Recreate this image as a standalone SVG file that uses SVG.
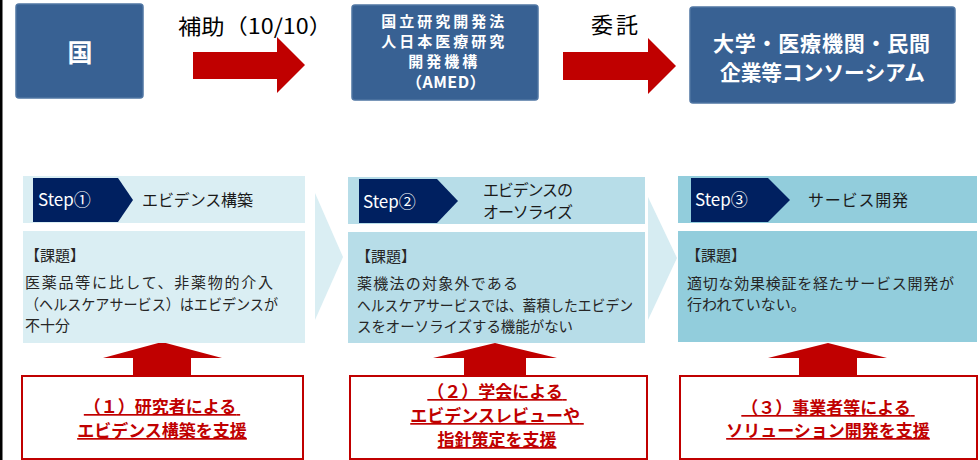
<svg xmlns="http://www.w3.org/2000/svg" width="980" height="460" viewBox="0 0 980 460">
<defs>
<style>
.jp{font-family:"Noto Sans CJK JP","Noto Sans",sans-serif;}
.topbox{fill:#386193;stroke:#4f75a3;stroke-width:1.5;}
.wt{fill:#ffffff;font-weight:bold;}
.red{fill:#c00000;}
.step{fill:#002060;}
.st{fill:#ffffff;font-size:17px;}
.title{fill:#1a1a1a;font-size:16px;}
.body{fill:#262626;font-size:15px;}
.sup{fill:#ffffff;stroke:#c00000;stroke-width:2;}
.supt{fill:#c00000;font-size:17px;font-weight:bold;text-decoration:underline;}
</style>
</defs>
<rect x="0" y="0" width="980" height="460" fill="#ffffff"/>
<rect x="0" y="0" width="2.5" height="460" fill="#000000"/>

<g id="connectors">
<polygon class="red" points="193,52 277,52 277,37 305,65 277,93 277,79 193,79"/>
<polygon class="red" points="563,52 648,52 648,38 676,66 648,94 648,80 563,80"/>
<polygon points="315,193 343,257 315,320" fill="#daeef3"/>
<polygon points="648,197 677,258 648,320" fill="#d6ecf2"/>
<polygon class="red" points="162,342 222,358 191,358 191,376 133,376 133,358 103,358"/>
<polygon class="red" points="495,343 557,358 526,358 526,376 464,376 464,358 433,358"/>
<polygon class="red" points="828,343 887,358 857,358 857,376 799,376 799,358 768,358"/>
<text class="jp" x="178" y="34" font-size="21" fill="#000000" textLength="154" lengthAdjust="spacingAndGlyphs">補助（10/10）</text>
<text class="jp" x="591" y="33" font-size="22" fill="#000000" textLength="47">委託</text>
</g>

<g id="kuni">
<rect class="topbox" x="16" y="4" width="127" height="94" rx="3"/>
<text class="jp wt" x="80" y="62" font-size="25" text-anchor="middle">国</text>
</g>

<g id="amed">
<rect class="topbox" x="352" y="5" width="186" height="95" rx="3"/>
<text class="jp wt" font-size="15" text-anchor="middle">
<tspan x="446" y="27" letter-spacing="3">国立研究開発法</tspan>
<tspan x="446" y="47" letter-spacing="3">人日本医療研究</tspan>
<tspan x="446" y="67" letter-spacing="3">開発機構</tspan>
<tspan x="446" y="88" font-size="16" letter-spacing="0.5">（AMED）</tspan>
</text>
</g>

<g id="consortium">
<rect class="topbox" x="690" y="7" width="265" height="96" rx="3"/>
<text class="jp wt" font-size="21">
<tspan x="713" y="51" textLength="217">大学・医療機関・民間</tspan>
<tspan x="720" y="80" textLength="205" lengthAdjust="spacingAndGlyphs">企業等コンソーシアム</tspan>
</text>
</g>

<g id="step1">
<rect x="23" y="176" width="282" height="47" fill="#daeef3"/>
<polygon class="step" points="33,178 118,178 133,200 118,222 33,222"/>
<text class="jp st" x="38" y="206">Step①</text>
<text class="jp title" x="142" y="206" textLength="111">エビデンス構築</text>
<rect x="23" y="231" width="282" height="112" fill="#daeef3"/>
<text class="jp body">
<tspan x="25" y="261">【課題】</tspan>
<tspan x="25" y="288" textLength="248">医薬品等に比して、非薬物的介入</tspan>
<tspan x="25" y="310" textLength="253" lengthAdjust="spacingAndGlyphs">（ヘルスケアサービス）はエビデンスが</tspan>
<tspan x="25" y="331">不十分</tspan>
</text>
</g>

<g id="step2">
<rect x="348" y="177" width="297" height="47" fill="#b7dde8"/>
<polygon class="step" points="359,179 437,179 458,201 437,223 359,223"/>
<text class="jp st" x="363" y="208">Step②</text>
<text class="jp title">
<tspan x="483" y="196" textLength="90">エビデンスの</tspan>
<tspan x="483" y="218" textLength="90">オーソライズ</tspan>
</text>
<rect x="348" y="232" width="297" height="111" fill="#b7dde8"/>
<text class="jp body">
<tspan x="356" y="262">【課題】</tspan>
<tspan x="357" y="289" textLength="161">薬機法の対象外である</tspan>
<tspan x="357" y="311" textLength="276" lengthAdjust="spacingAndGlyphs">ヘルスケアサービスでは、蓄積したエビデン</tspan>
<tspan x="357" y="332" textLength="216" lengthAdjust="spacingAndGlyphs">スをオーソライズする機能がない</tspan>
</text>
</g>

<g id="step3">
<rect x="678" y="176" width="299" height="47" fill="#92cddc"/>
<polygon class="step" points="691,178 768,178 790,200 768,222 691,222"/>
<text class="jp st" x="695" y="206">Step③</text>
<text class="jp title" x="808" y="206" textLength="100">サービス開発</text>
<rect x="678" y="231" width="299" height="111" fill="#92cddc"/>
<text class="jp body">
<tspan x="686" y="261">【課題】</tspan>
<tspan x="687" y="289" textLength="267">適切な効果検証を経たサービス開発が</tspan>
<tspan x="687" y="310">行われていない。</tspan>
</text>
</g>

<g id="support1">
<rect class="sup" x="22" y="376" width="281" height="83"/>
<text class="jp supt" text-anchor="middle">
<tspan x="162" y="413">（１）研究者による</tspan>
<tspan x="162" y="437">エビデンス構築を支援</tspan>
</text>
</g>

<g id="support2">
<rect class="sup" x="350" y="376" width="297" height="83"/>
<text class="jp supt" text-anchor="middle">
<tspan x="497" y="398">（２）学会による</tspan>
<tspan x="497" y="422">エビデンスレビューや</tspan>
<tspan x="497" y="446">指針策定を支援</tspan>
</text>
</g>

<g id="support3">
<rect class="sup" x="680" y="376" width="297" height="83"/>
<text class="jp supt" text-anchor="middle">
<tspan x="828" y="414">（３）事業者等による</tspan>
<tspan x="828" y="437">ソリューション開発を支援</tspan>
</text>
</g>
</svg>
